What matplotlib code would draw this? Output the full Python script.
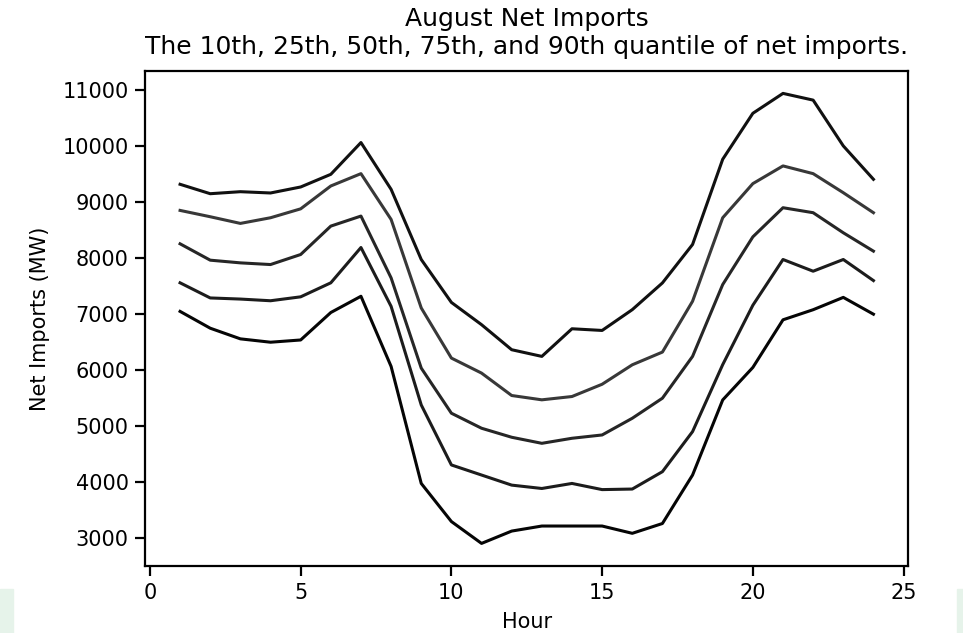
import matplotlib
matplotlib.use("Agg")
import matplotlib.pyplot as plt
from matplotlib.patches import Rectangle

# horas del dia
hours = list(range(1, 25))

# cuantiles de importaciones netas (MW)
q10 = [7050, 6750, 6560, 6500, 6540, 7030, 7320, 6068, 3980, 3300,
       2910, 3130, 3220, 3220, 3220, 3090, 3265, 4130, 5470, 6050,
       6900, 7080, 7300, 7000]
q25 = [7560, 7290, 7270, 7240, 7310, 7560, 8190, 7140, 5380, 4310,
       4130, 3950, 3890, 3980, 3870, 3880, 4190, 4905, 6100, 7160,
       7976, 7767, 7976, 7600]
q50 = [8256, 7964, 7916, 7886, 8065, 8572, 8751, 7648, 6038, 5233,
       4965, 4804, 4696, 4786, 4845, 5143, 5501, 6247, 7529, 8380,
       8900, 8811, 8453, 8125]
q75 = [8852, 8739, 8620, 8721, 8880, 9288, 9508, 8691, 7111, 6217,
       5949, 5549, 5472, 5531, 5750, 6097, 6324, 7231, 8721, 9330,
       9646, 9508, 9168, 8811]
q90 = [9318, 9150, 9186, 9163, 9270, 9496, 10063, 9228, 7976, 7210,
       6813, 6366, 6247, 6740, 6710, 7081, 7558, 8244, 9765, 10585,
       10940, 10820, 10003, 9407]

series = [q10, q25, q50, q75, q90]
colors = ['#050505', '#1c1c1c', '#262626', '#383838', '#111111']

fig = plt.figure(figsize=(9.63, 6.33), dpi=100)
ax = fig.add_axes([0.151, 0.106, 0.792, 0.782])

for vals, c in zip(series, colors):
    ax.plot(hours, vals, color=c, linewidth=2.2)

ax.set_title('August Net Imports\nThe 10th, 25th, 50th, 75th, and 90th quantile of net imports.',
             fontsize=18, pad=12)
ax.set_xlabel('Hour', fontsize=15, labelpad=7)
ax.set_ylabel('Net Imports (MW)', fontsize=15, labelpad=9)
ax.set_xticks([0, 5, 10, 15, 20, 25])
ax.set_yticks(range(3000, 11001, 1000))
ax.tick_params(labelsize=15, length=7, width=1.6, pad=5)
for s in ax.spines.values():
    s.set_linewidth(1.6)

# franjas verdes claras de los bordes
fig.patches.append(Rectangle((0, 0), 0.013, 0.07, transform=fig.transFigure,
                             color='#e6f3ea', zorder=-1))
fig.patches.append(Rectangle((0.994, 0), 0.006, 0.07, transform=fig.transFigure,
                             color='#e6f3ea', zorder=-1))

plt.savefig('out.png', dpi=100)
plt.close()
